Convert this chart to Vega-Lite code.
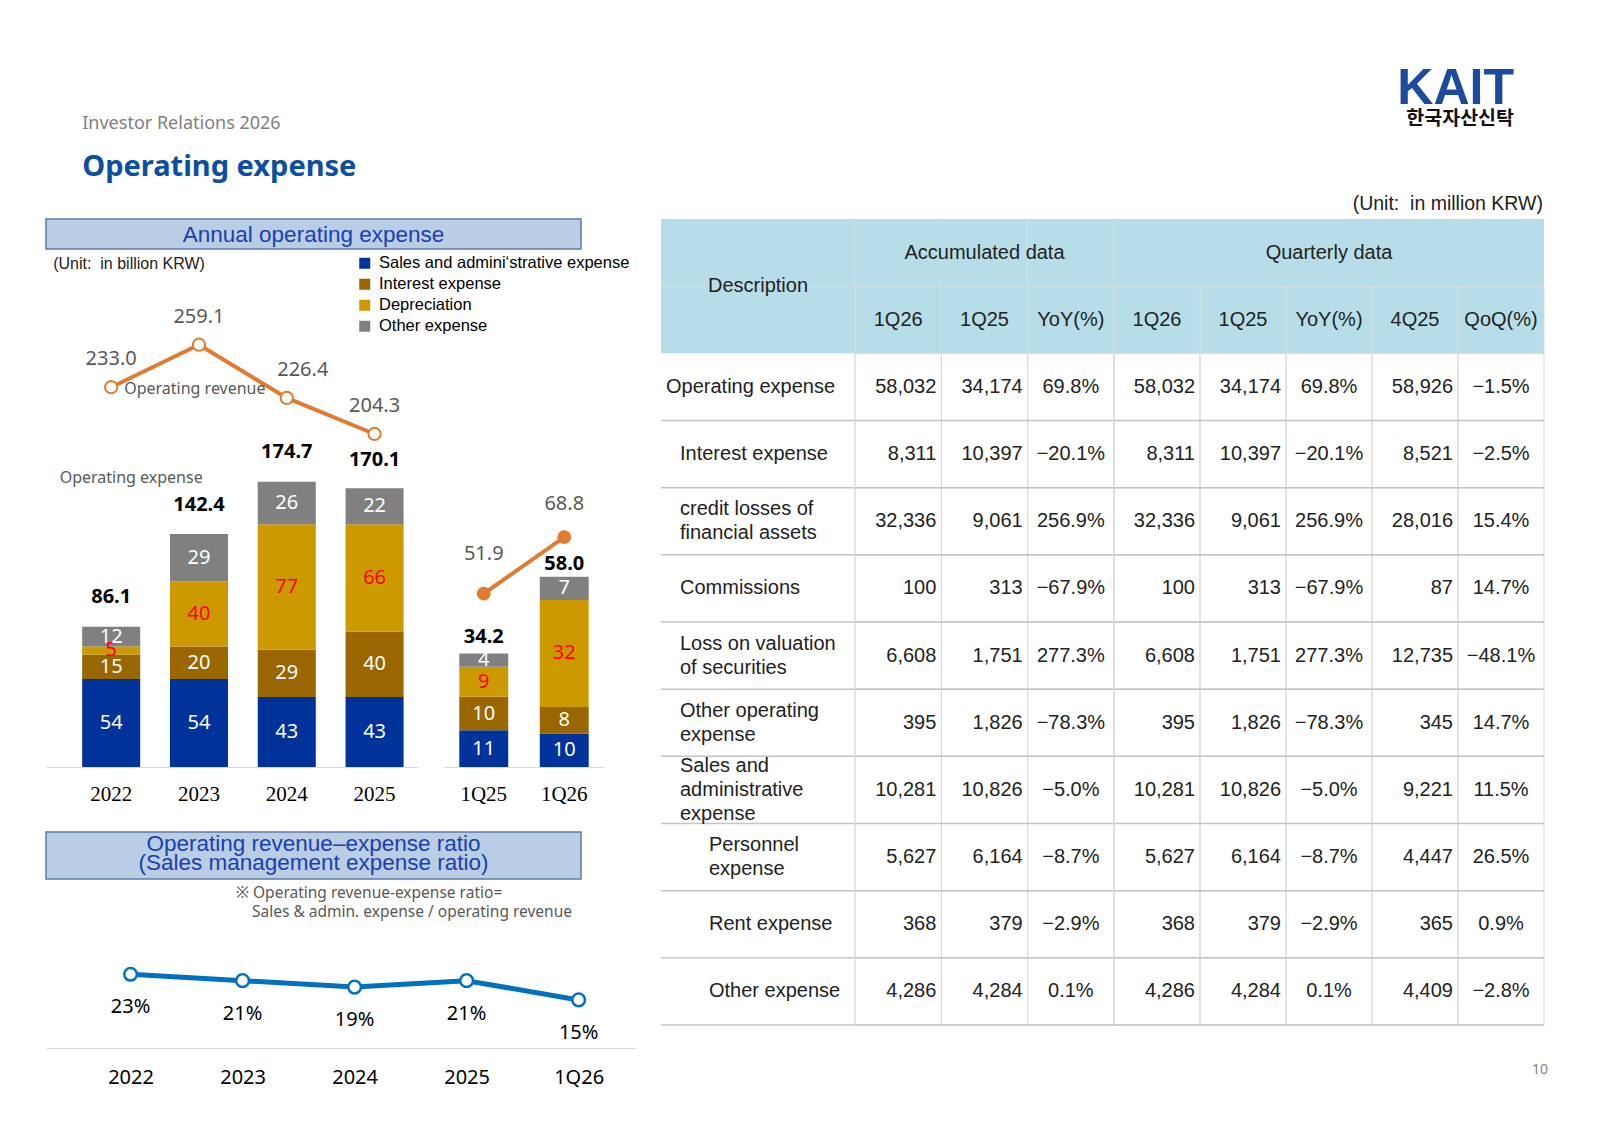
{
  "$schema": "https://vega.github.io/schema/vega-lite/v6.json",
  "background": "white",
  "padding": {"left": 45, "top": 63, "right": 5, "bottom": 5},
  "config": {
    "view": {"stroke": null},
    "text": {"font": "Noto Sans"},
    "title": {"font": "Noto Sans"}
  },
  "datasets": {
    "annExp": [
      {"p": "2022", "type": "Sales and admini‘strative expense", "k": 1, "v": 54},
      {"p": "2022", "type": "Interest expense", "k": 2, "v": 15},
      {"p": "2022", "type": "Depreciation", "k": 3, "v": 5},
      {"p": "2022", "type": "Other expense", "k": 4, "v": 12},
      {"p": "2023", "type": "Sales and admini‘strative expense", "k": 1, "v": 54},
      {"p": "2023", "type": "Interest expense", "k": 2, "v": 20},
      {"p": "2023", "type": "Depreciation", "k": 3, "v": 40},
      {"p": "2023", "type": "Other expense", "k": 4, "v": 29},
      {"p": "2024", "type": "Sales and admini‘strative expense", "k": 1, "v": 43},
      {"p": "2024", "type": "Interest expense", "k": 2, "v": 29},
      {"p": "2024", "type": "Depreciation", "k": 3, "v": 77},
      {"p": "2024", "type": "Other expense", "k": 4, "v": 26},
      {"p": "2025", "type": "Sales and admini‘strative expense", "k": 1, "v": 43},
      {"p": "2025", "type": "Interest expense", "k": 2, "v": 40},
      {"p": "2025", "type": "Depreciation", "k": 3, "v": 66},
      {"p": "2025", "type": "Other expense", "k": 4, "v": 22}
    ],
    "qExp": [
      {"p": "1Q25", "type": "Sales and admini‘strative expense", "k": 1, "v": 11},
      {"p": "1Q25", "type": "Interest expense", "k": 2, "v": 10},
      {"p": "1Q25", "type": "Depreciation", "k": 3, "v": 9},
      {"p": "1Q25", "type": "Other expense", "k": 4, "v": 4},
      {"p": "1Q26", "type": "Sales and admini‘strative expense", "k": 1, "v": 10},
      {"p": "1Q26", "type": "Interest expense", "k": 2, "v": 8},
      {"p": "1Q26", "type": "Depreciation", "k": 3, "v": 32},
      {"p": "1Q26", "type": "Other expense", "k": 4, "v": 7}
    ],
    "annTot": [
      {"p": "2022", "total": 86.1, "rev": 233.0},
      {"p": "2023", "total": 142.4, "rev": 259.1},
      {"p": "2024", "total": 174.7, "rev": 226.4},
      {"p": "2025", "total": 170.1, "rev": 204.3}
    ],
    "qTot": [
      {"p": "1Q25", "total": 34.2, "rev": 51.9},
      {"p": "1Q26", "total": 58.0, "rev": 68.8}
    ],
    "ratio": [
      {"p": "2022", "r": 0.23},
      {"p": "2023", "r": 0.21},
      {"p": "2024", "r": 0.19},
      {"p": "2025", "r": 0.21},
      {"p": "1Q26", "r": 0.15}
    ],
    "table": [
      {"r": "r1", "item": "Operating expense", "lvl": 0, "a1": "58,032", "a2": "34,174", "a3": "69.8%", "q1": "58,032", "q2": "34,174", "q3": "69.8%", "q4": "58,926", "q5": "−1.5%"},
      {"r": "r2", "item": "Interest expense", "lvl": 1, "a1": "8,311", "a2": "10,397", "a3": "−20.1%", "q1": "8,311", "q2": "10,397", "q3": "−20.1%", "q4": "8,521", "q5": "−2.5%"},
      {"r": "r3", "item": "credit losses of\nfinancial assets", "lvl": 1, "a1": "32,336", "a2": "9,061", "a3": "256.9%", "q1": "32,336", "q2": "9,061", "q3": "256.9%", "q4": "28,016", "q5": "15.4%"},
      {"r": "r4", "item": "Commissions", "lvl": 1, "a1": "100", "a2": "313", "a3": "−67.9%", "q1": "100", "q2": "313", "q3": "−67.9%", "q4": "87", "q5": "14.7%"},
      {"r": "r5", "item": "Loss on valuation\nof securities", "lvl": 1, "a1": "6,608", "a2": "1,751", "a3": "277.3%", "q1": "6,608", "q2": "1,751", "q3": "277.3%", "q4": "12,735", "q5": "−48.1%"},
      {"r": "r6", "item": "Other operating\nexpense", "lvl": 1, "a1": "395", "a2": "1,826", "a3": "−78.3%", "q1": "395", "q2": "1,826", "q3": "−78.3%", "q4": "345", "q5": "14.7%"},
      {"r": "r7", "item": "Sales and\nadministrative\nexpense", "lvl": 1, "a1": "10,281", "a2": "10,826", "a3": "−5.0%", "q1": "10,281", "q2": "10,826", "q3": "−5.0%", "q4": "9,221", "q5": "11.5%"},
      {"r": "r8", "item": "Personnel\nexpense", "lvl": 2, "a1": "5,627", "a2": "6,164", "a3": "−8.7%", "q1": "5,627", "q2": "6,164", "q3": "−8.7%", "q4": "4,447", "q5": "26.5%"},
      {"r": "r9", "item": "Rent expense", "lvl": 2, "a1": "368", "a2": "379", "a3": "−2.9%", "q1": "368", "q2": "379", "q3": "−2.9%", "q4": "365", "q5": "0.9%"},
      {"r": "r10", "item": "Other expense", "lvl": 2, "a1": "4,286", "a2": "4,284", "a3": "0.1%", "q1": "4,286", "q2": "4,284", "q3": "0.1%", "q4": "4,409", "q5": "−2.8%"}
    ],
    "hD": [
      {"c": "D", "r": "h1", "t": "Description"},
      {"c": "D", "r": "h2", "t": ""}
    ],
    "hA": [
      {"c": "a1", "r": "h1", "t": ""},
      {"c": "a2", "r": "h1", "t": "Accumulated data"},
      {"c": "a3", "r": "h1", "t": ""},
      {"c": "a1", "r": "h2", "t": "1Q26"},
      {"c": "a2", "r": "h2", "t": "1Q25"},
      {"c": "a3", "r": "h2", "t": "YoY(%)"}
    ],
    "hQ": [
      {"c": "q1", "r": "h1", "t": ""},
      {"c": "q2", "r": "h1", "t": ""},
      {"c": "q3", "r": "h1", "t": "Quarterly data"},
      {"c": "q4", "r": "h1", "t": ""},
      {"c": "q5", "r": "h1", "t": ""},
      {"c": "q1", "r": "h2", "t": "1Q26"},
      {"c": "q2", "r": "h2", "t": "1Q25"},
      {"c": "q3", "r": "h2", "t": "YoY(%)"},
      {"c": "q4", "r": "h2", "t": "4Q25"},
      {"c": "q5", "r": "h2", "t": "QoQ(%)"}
    ],
    "page": [
      {"c": "q5", "r": "r10", "t": "10"}
    ]
  },
  "spacing": 25,
  "hconcat": [
    {
      "title": {
        "text": "Investor Relations 2026",
        "subtitle": "Operating expense",
        "anchor": "start",
        "dx": 37,
        "font": "Noto Sans",
        "fontSize": 18,
        "fontWeight": "normal",
        "color": "#7f7f7f",
        "subtitleFont": "Noto Sans",
        "subtitleFontSize": 29,
        "subtitleFontWeight": "bold",
        "subtitleColor": "#0b4fa2",
        "subtitlePadding": 20,
        "offset": 36
      },
      "spacing": 5,
      "vconcat": [
        {
          "width": 535,
          "height": 30,
          "view": {"fill": "#b9cde5", "stroke": "#5f7aa8", "strokeWidth": 1.5},
          "data": {"values": [{"t": "Annual operating expense"}]},
          "mark": {"type": "text", "font": "Liberation Sans", "fontSize": 22.5, "color": "#1b3fae", "dy": 1},
          "encoding": {"text": {"field": "t", "type": "nominal"}}
        },
        {
          "bounds": "flush",
          "spacing": 26,
          "hconcat": [
            {
              "width": 372,
              "height": 511,
              "layer": [
                {
                  "data": {"name": "annExp"},
                  "mark": {"type": "bar"},
                  "encoding": {
                    "x": {"field": "p", "type": "nominal", "scale": {"domain": ["2022", "2023", "2024", "2025"], "paddingInner": 0.339, "paddingOuter": 0.288, "align": 0.715},
                      "axis": {"title": "\u00a0", "titleFontSize": 10, "titlePadding": 11.5, "labelFont": "Liberation Serif", "labelFontSize": 21, "labelColor": "#000000", "labelPadding": 16, "ticks": false, "tickSize": 0, "domainColor": "#d9d9d9", "labelAngle": 0}},
                    "y": {"field": "v", "type": "quantitative", "stack": "zero", "scale": {"domain": [0, 313.5], "nice": false}, "axis": null},
                    "order": {"field": "k", "type": "quantitative"},
                    "color": {"field": "type", "type": "nominal",
                      "sort": ["Sales and admini‘strative expense", "Interest expense", "Depreciation", "Other expense"],
                      "scale": {"domain": ["Sales and admini‘strative expense", "Interest expense", "Depreciation", "Other expense"], "range": ["#003399", "#996600", "#cc9900", "#808080"]},
                      "legend": {"title": null, "orient": "none", "legendX": 310.5, "legendY": 36, "symbolType": "square", "symbolSize": 121, "symbolStrokeWidth": 0, "labelFont": "Liberation Sans", "labelFontSize": 16.5, "labelColor": "#000000", "labelOffset": 6, "labelLimit": 600, "rowPadding": 4, "padding": 0}}
                  }
                },
                {
                  "data": {"name": "annExp"},
                  "mark": {"type": "text", "font": "Noto Sans", "fontSize": 20},
                  "encoding": {
                    "x": {"field": "p", "type": "nominal"},
                    "y": {"field": "v", "type": "quantitative", "stack": "zero", "bandPosition": 0.5},
                    "order": {"field": "k", "type": "quantitative"},
                    "color": {"field": "type", "type": "nominal", "sort": ["Sales and admini‘strative expense", "Interest expense", "Depreciation", "Other expense"]},
                    "fill": {"condition": {"test": "datum.type === 'Depreciation'", "value": "#ff0000"}, "value": "#ffffff"},
                    "text": {"field": "v", "type": "quantitative"}
                  }
                },
                {
                  "data": {"name": "annTot"},
                  "mark": {"type": "text", "font": "Noto Sans", "fontSize": 20, "fontWeight": "bold", "color": "#000000", "dy": -30},
                  "encoding": {
                    "x": {"field": "p", "type": "nominal"},
                    "y": {"field": "total", "type": "quantitative"},
                    "text": {"field": "total", "type": "quantitative", "format": ".1f"}
                  }
                },
                {
                  "data": {"name": "annTot"},
                  "mark": {"type": "line", "color": "#e07b30", "strokeWidth": 4},
                  "encoding": {
                    "x": {"field": "p", "type": "nominal"},
                    "y": {"field": "rev", "type": "quantitative"}
                  }
                },
                {
                  "data": {"name": "annTot"},
                  "mark": {"type": "point", "filled": true, "fill": "#ffffff", "stroke": "#e07b30", "strokeWidth": 2, "size": 150, "opacity": 1},
                  "encoding": {
                    "x": {"field": "p", "type": "nominal"},
                    "y": {"field": "rev", "type": "quantitative"}
                  }
                },
                {
                  "data": {"name": "annTot"},
                  "transform": [{"filter": "datum.p !== '2024'"}],
                  "mark": {"type": "text", "font": "Noto Sans", "fontSize": 20, "color": "#595959", "dy": -28},
                  "encoding": {
                    "x": {"field": "p", "type": "nominal"},
                    "y": {"field": "rev", "type": "quantitative"},
                    "text": {"field": "rev", "type": "quantitative", "format": ".1f"}
                  }
                },
                {
                  "data": {"name": "annTot"},
                  "transform": [{"filter": "datum.p === '2024'"}],
                  "mark": {"type": "text", "font": "Noto Sans", "fontSize": 20, "color": "#595959", "dy": -28, "dx": 16},
                  "encoding": {
                    "x": {"field": "p", "type": "nominal"},
                    "y": {"field": "rev", "type": "quantitative"},
                    "text": {"field": "rev", "type": "quantitative", "format": ".1f"}
                  }
                },
                {
                  "data": {"name": "annTot"},
                  "transform": [{"filter": "datum.p === '2022'"}],
                  "mark": {"type": "text", "font": "Noto Sans", "fontSize": 16, "color": "#595959", "align": "left", "dx": 13, "dy": 2},
                  "encoding": {
                    "x": {"field": "p", "type": "nominal"},
                    "y": {"field": "rev", "type": "quantitative"},
                    "text": {"value": "Operating revenue"}
                  }
                },
                {
                  "data": {"name": "annTot"},
                  "transform": [{"filter": "datum.p === '2022'"}],
                  "mark": {"type": "text", "font": "Noto Sans", "fontSize": 16, "color": "#595959", "dx": 20},
                  "encoding": {
                    "x": {"field": "p", "type": "nominal"},
                    "y": {"datum": 177},
                    "text": {"value": "Operating expense"}
                  }
                },
                {
                  "data": {"name": "annTot"},
                  "transform": [{"filter": "datum.p === '2022'"}],
                  "mark": {"type": "text", "font": "Liberation Sans", "fontSize": 16, "color": "#222222", "align": "left", "dx": -29},
                  "encoding": {
                    "x": {"field": "p", "type": "nominal", "bandPosition": 0},
                    "y": {"datum": 308.8},
                    "text": {"value": "(Unit:\u00a0\u00a0in billion KRW)"}
                  }
                }
              ]
            },
            {
              "width": 160,
              "height": 511,
              "layer": [
                {
                  "data": {"name": "qExp"},
                  "mark": {"type": "bar"},
                  "encoding": {
                    "x": {"field": "p", "type": "nominal", "scale": {"domain": ["1Q25", "1Q26"], "paddingInner": 0.392, "paddingOuter": 0.19},
                      "axis": {"title": null, "labelFont": "Liberation Serif", "labelFontSize": 21, "labelColor": "#000000", "labelPadding": 16, "ticks": false, "tickSize": 0, "domainColor": "#d9d9d9", "labelAngle": 0}},
                    "y": {"field": "v", "type": "quantitative", "stack": "zero", "scale": {"domain": [0, 153], "nice": false}, "axis": null},
                    "order": {"field": "k", "type": "quantitative"},
                    "color": {"field": "type", "type": "nominal", "sort": ["Sales and admini‘strative expense", "Interest expense", "Depreciation", "Other expense"]}
                  }
                },
                {
                  "data": {"name": "qExp"},
                  "mark": {"type": "text", "font": "Noto Sans", "fontSize": 20},
                  "encoding": {
                    "x": {"field": "p", "type": "nominal"},
                    "y": {"field": "v", "type": "quantitative", "stack": "zero", "bandPosition": 0.5},
                    "order": {"field": "k", "type": "quantitative"},
                    "color": {"field": "type", "type": "nominal", "sort": ["Sales and admini‘strative expense", "Interest expense", "Depreciation", "Other expense"]},
                    "fill": {"condition": {"test": "datum.type === 'Depreciation'", "value": "#ff0000"}, "value": "#ffffff"},
                    "text": {"field": "v", "type": "quantitative"}
                  }
                },
                {
                  "data": {"name": "qTot"},
                  "transform": [{"filter": "datum.p === '1Q25'"}],
                  "mark": {"type": "text", "font": "Noto Sans", "fontSize": 20, "fontWeight": "bold", "color": "#000000", "dy": -16},
                  "encoding": {
                    "x": {"field": "p", "type": "nominal"},
                    "y": {"field": "total", "type": "quantitative"},
                    "text": {"field": "total", "type": "quantitative", "format": ".1f"}
                  }
                },
                {
                  "data": {"name": "qTot"},
                  "transform": [{"filter": "datum.p === '1Q26'"}],
                  "mark": {"type": "text", "font": "Noto Sans", "fontSize": 20, "fontWeight": "bold", "color": "#000000", "dy": -9},
                  "encoding": {
                    "x": {"field": "p", "type": "nominal"},
                    "y": {"field": "total", "type": "quantitative"},
                    "text": {"field": "total", "type": "quantitative", "format": ".1f"}
                  }
                },
                {
                  "data": {"name": "qTot"},
                  "mark": {"type": "line", "color": "#e07b30", "strokeWidth": 4},
                  "encoding": {
                    "x": {"field": "p", "type": "nominal"},
                    "y": {"field": "rev", "type": "quantitative"}
                  }
                },
                {
                  "data": {"name": "qTot"},
                  "mark": {"type": "point", "filled": true, "fill": "#e07b30", "size": 190, "opacity": 1},
                  "encoding": {
                    "x": {"field": "p", "type": "nominal"},
                    "y": {"field": "rev", "type": "quantitative"}
                  }
                },
                {
                  "data": {"name": "qTot"},
                  "transform": [{"filter": "datum.p === '1Q25'"}],
                  "mark": {"type": "text", "font": "Noto Sans", "fontSize": 20, "color": "#595959", "dy": -40},
                  "encoding": {
                    "x": {"field": "p", "type": "nominal"},
                    "y": {"field": "rev", "type": "quantitative"},
                    "text": {"field": "rev", "type": "quantitative", "format": ".1f"}
                  }
                },
                {
                  "data": {"name": "qTot"},
                  "transform": [{"filter": "datum.p === '1Q26'"}],
                  "mark": {"type": "text", "font": "Noto Sans", "fontSize": 20, "color": "#595959", "dy": -33},
                  "encoding": {
                    "x": {"field": "p", "type": "nominal"},
                    "y": {"field": "rev", "type": "quantitative"},
                    "text": {"field": "rev", "type": "quantitative", "format": ".1f"}
                  }
                }
              ]
            }
          ]
        },
        {
          "width": 535,
          "height": 47,
          "view": {"fill": "#b9cde5", "stroke": "#5f7aa8", "strokeWidth": 1.5},
          "data": {"values": [{"t": "Operating revenue–expense ratio\n(Sales management expense ratio)"}]},
          "mark": {"type": "text", "font": "Liberation Sans", "fontSize": 22.5, "color": "#1b3fae", "dy": -11.5, "lineBreak": "\n", "lineHeight": 19},
          "encoding": {"text": {"field": "t", "type": "nominal"}}
        },
        {
          "width": 589,
          "height": 125,
          "title": {
            "text": ["※ Operating revenue-expense ratio=", "\u2800\u00a0Sales & admin. expense / operating revenue"],
            "anchor": "start",
            "dx": 190,
            "font": "Noto Sans",
            "fontSize": 15.5,
            "fontWeight": "normal",
            "color": "#595959",
            "lineHeight": 19,
            "offset": 3
          },
          "data": {"name": "ratio"},
          "encoding": {
            "x": {"field": "p", "type": "nominal", "scale": {"type": "point", "domain": ["2022", "2023", "2024", "2025", "1Q26"], "padding": 0.629, "align": 0.6},
              "axis": {"title": null, "labelFont": "Noto Sans", "labelFontSize": 20, "labelColor": "#000000", "labelPadding": 19, "ticks": false, "tickSize": 0, "domainColor": "#d9d9d9", "labelAngle": 0}},
            "y": {"field": "r", "type": "quantitative", "scale": {"domain": [0, 0.39], "nice": false}, "axis": null}
          },
          "layer": [
            {"mark": {"type": "line", "color": "#0070c0", "strokeWidth": 5}},
            {"mark": {"type": "point", "filled": true, "fill": "#ffffff", "stroke": "#0070c0", "strokeWidth": 2.5, "size": 160, "opacity": 1}},
            {"mark": {"type": "text", "font": "Noto Sans", "fontSize": 20, "color": "#000000", "dy": 33},
             "encoding": {"text": {"field": "r", "type": "quantitative", "format": ".0%"}}}
          ]
        }
      ]
    },
    {
      "title": {
        "text": "KAIT",
        "subtitle": "한국자산신탁",
        "anchor": "end",
        "dx": -34,
        "font": "Liberation Sans",
        "fontSize": 50,
        "fontWeight": 900,
        "color": "#1d4a9c",
        "subtitleFont": "Noto Sans CJK KR",
        "subtitleFontSize": 19.5,
        "subtitleFontWeight": "bold",
        "subtitleColor": "#111111",
        "subtitlePadding": -4,
        "offset": 66
      },
      "vconcat": [
        {
          "title": {"text": "(Unit:\u00a0\u00a0in million KRW)", "anchor": "end", "dx": -5, "font": "Liberation Sans", "fontSize": 19.5, "fontWeight": "normal", "color": "#222222", "offset": 4},
          "bounds": "flush",
          "spacing": 0,
          "hconcat": [
            {
              "width": 194,
              "height": 806,
              "layer": [
                {
                  "data": {"name": "hD"},
                  "mark": {"type": "rect", "fill": "#b7dee8"},
                  "encoding": {
                    "x": {"field": "c", "type": "nominal", "scale": {"domain": ["D"], "paddingInner": 0, "paddingOuter": 0}, "axis": null},
                    "y": {"field": "r", "type": "nominal", "scale": {"domain": ["h1", "h2", "r1", "r2", "r3", "r4", "r5", "r6", "r7", "r8", "r9", "r10"], "paddingInner": 0, "paddingOuter": 0}, "axis": null}
                  }
                },
                {
                  "data": {"name": "hD"},
                  "transform": [{"filter": "datum.r === 'h1'"}],
                  "mark": {"type": "text", "font": "Liberation Sans", "fontSize": 20, "color": "#222222"},
                  "encoding": {
                    "x": {"field": "c", "type": "nominal", "axis": null},
                    "y": {"field": "r", "type": "nominal", "bandPosition": 1, "axis": null},
                    "text": {"field": "t", "type": "nominal"}
                  }
                },
                {
                  "data": {"name": "table"},
                  "mark": {"type": "rule", "color": "#c4c4c4", "strokeWidth": 1.5},
                  "encoding": {"y": {"field": "r", "type": "nominal", "bandPosition": 1, "axis": null}}
                },
                {
                  "data": {"name": "table"},
                  "transform": [{"filter": "datum.lvl === 0"}],
                  "mark": {"type": "text", "font": "Liberation Sans", "fontSize": 20, "color": "#222222", "align": "left", "dx": -92},
                  "encoding": {"y": {"field": "r", "type": "nominal", "axis": null}, "text": {"field": "item", "type": "nominal"}}
                },
                {
                  "data": {"name": "table"},
                  "transform": [{"filter": "datum.r === 'r2' || datum.r === 'r4'"}],
                  "mark": {"type": "text", "font": "Liberation Sans", "fontSize": 20, "color": "#222222", "align": "left", "dx": -78},
                  "encoding": {"y": {"field": "r", "type": "nominal", "axis": null}, "text": {"field": "item", "type": "nominal"}}
                },
                {
                  "data": {"name": "table"},
                  "transform": [{"filter": "datum.r === 'r3' || datum.r === 'r5' || datum.r === 'r6'"}],
                  "mark": {"type": "text", "font": "Liberation Sans", "fontSize": 20, "color": "#222222", "align": "left", "dx": -78, "dy": -12, "lineBreak": "\n", "lineHeight": 24},
                  "encoding": {"y": {"field": "r", "type": "nominal", "axis": null}, "text": {"field": "item", "type": "nominal"}}
                },
                {
                  "data": {"name": "table"},
                  "transform": [{"filter": "datum.r === 'r7'"}],
                  "mark": {"type": "text", "font": "Liberation Sans", "fontSize": 20, "color": "#222222", "align": "left", "dx": -78, "dy": -24, "lineBreak": "\n", "lineHeight": 24},
                  "encoding": {"y": {"field": "r", "type": "nominal", "axis": null}, "text": {"field": "item", "type": "nominal"}}
                },
                {
                  "data": {"name": "table"},
                  "transform": [{"filter": "datum.r === 'r8'"}],
                  "mark": {"type": "text", "font": "Liberation Sans", "fontSize": 20, "color": "#222222", "align": "left", "dx": -49, "dy": -12, "lineBreak": "\n", "lineHeight": 24},
                  "encoding": {"y": {"field": "r", "type": "nominal", "axis": null}, "text": {"field": "item", "type": "nominal"}}
                },
                {
                  "data": {"name": "table"},
                  "transform": [{"filter": "datum.r === 'r9' || datum.r === 'r10'"}],
                  "mark": {"type": "text", "font": "Liberation Sans", "fontSize": 20, "color": "#222222", "align": "left", "dx": -49},
                  "encoding": {"y": {"field": "r", "type": "nominal", "axis": null}, "text": {"field": "item", "type": "nominal"}}
                }
              ]
            },
            {
              "width": 259,
              "height": 806,
              "layer": [
                {
                  "data": {"name": "hA"},
                  "mark": {"type": "rect", "fill": "#b7dee8"},
                  "encoding": {
                    "x": {"field": "c", "type": "nominal", "scale": {"domain": ["a1", "a2", "a3"], "paddingInner": 0, "paddingOuter": 0}, "axis": null},
                    "y": {"field": "r", "type": "nominal", "scale": {"domain": ["h1", "h2", "r1", "r2", "r3", "r4", "r5", "r6", "r7", "r8", "r9", "r10"], "paddingInner": 0, "paddingOuter": 0}, "axis": null}
                  }
                },
                {
                  "data": {"name": "hA"},
                  "transform": [{"filter": "datum.r === 'h2'"}],
                  "mark": {"type": "rect", "fillOpacity": 0, "stroke": "#d6dde0", "strokeWidth": 1},
                  "encoding": {"x": {"field": "c", "type": "nominal", "axis": null}, "y": {"field": "r", "type": "nominal", "axis": null}}
                },
                {
                  "data": {"name": "table"},
                  "transform": [{"fold": ["a1", "a2", "a3"], "as": ["c", "v"]}],
                  "mark": {"type": "rect", "fillOpacity": 0, "stroke": "#d9d9d9", "strokeWidth": 1},
                  "encoding": {"x": {"field": "c", "type": "nominal", "axis": null}, "y": {"field": "r", "type": "nominal", "axis": null}}
                },
                {
                  "data": {"name": "table"},
                  "mark": {"type": "rule", "color": "#c4c4c4", "strokeWidth": 1.5},
                  "encoding": {"y": {"field": "r", "type": "nominal", "bandPosition": 1, "axis": null}}
                },
                {
                  "data": {"name": "hA"},
                  "transform": [{"filter": "datum.r === 'h1' && datum.c === 'a1'"}],
                  "mark": {"type": "rule", "color": "#d6dde0", "strokeWidth": 1},
                  "encoding": {"x": {"field": "c", "type": "nominal", "bandPosition": 0, "axis": null}}
                },
                {
                  "data": {"name": "hA"},
                  "mark": {"type": "text", "font": "Liberation Sans", "fontSize": 20, "color": "#222222"},
                  "encoding": {"x": {"field": "c", "type": "nominal", "axis": null}, "y": {"field": "r", "type": "nominal", "axis": null}, "text": {"field": "t", "type": "nominal"}}
                },
                {
                  "data": {"name": "table"},
                  "transform": [{"fold": ["a1", "a2"], "as": ["c", "v"]}],
                  "mark": {"type": "text", "font": "Liberation Sans", "fontSize": 20, "color": "#222222", "align": "right", "dx": -5},
                  "encoding": {"x": {"field": "c", "type": "nominal", "bandPosition": 1, "axis": null}, "y": {"field": "r", "type": "nominal", "axis": null}, "text": {"field": "v", "type": "nominal"}}
                },
                {
                  "data": {"name": "table"},
                  "transform": [{"fold": ["a3"], "as": ["c", "v"]}],
                  "mark": {"type": "text", "font": "Liberation Sans", "fontSize": 20, "color": "#222222"},
                  "encoding": {"x": {"field": "c", "type": "nominal", "axis": null}, "y": {"field": "r", "type": "nominal", "axis": null}, "text": {"field": "v", "type": "nominal"}}
                }
              ]
            },
            {
              "width": 430,
              "height": 806,
              "layer": [
                {
                  "data": {"name": "hQ"},
                  "mark": {"type": "rect", "fill": "#b7dee8"},
                  "encoding": {
                    "x": {"field": "c", "type": "nominal", "scale": {"domain": ["q1", "q2", "q3", "q4", "q5"], "paddingInner": 0, "paddingOuter": 0}, "axis": null},
                    "y": {"field": "r", "type": "nominal", "scale": {"domain": ["h1", "h2", "r1", "r2", "r3", "r4", "r5", "r6", "r7", "r8", "r9", "r10"], "paddingInner": 0, "paddingOuter": 0}, "axis": null}
                  }
                },
                {
                  "data": {"name": "hQ"},
                  "transform": [{"filter": "datum.r === 'h2'"}],
                  "mark": {"type": "rect", "fillOpacity": 0, "stroke": "#d6dde0", "strokeWidth": 1},
                  "encoding": {"x": {"field": "c", "type": "nominal", "axis": null}, "y": {"field": "r", "type": "nominal", "axis": null}}
                },
                {
                  "data": {"name": "table"},
                  "transform": [{"fold": ["q1", "q2", "q3", "q4", "q5"], "as": ["c", "v"]}],
                  "mark": {"type": "rect", "fillOpacity": 0, "stroke": "#d9d9d9", "strokeWidth": 1},
                  "encoding": {"x": {"field": "c", "type": "nominal", "axis": null}, "y": {"field": "r", "type": "nominal", "axis": null}}
                },
                {
                  "data": {"name": "table"},
                  "mark": {"type": "rule", "color": "#c4c4c4", "strokeWidth": 1.5},
                  "encoding": {"y": {"field": "r", "type": "nominal", "bandPosition": 1, "axis": null}}
                },
                {
                  "data": {"name": "hQ"},
                  "transform": [{"filter": "datum.r === 'h1' && datum.c === 'q1'"}],
                  "mark": {"type": "rule", "color": "#d6dde0", "strokeWidth": 1},
                  "encoding": {"x": {"field": "c", "type": "nominal", "bandPosition": 0, "axis": null}}
                },
                {
                  "data": {"name": "hQ"},
                  "mark": {"type": "text", "font": "Liberation Sans", "fontSize": 20, "color": "#222222"},
                  "encoding": {"x": {"field": "c", "type": "nominal", "axis": null}, "y": {"field": "r", "type": "nominal", "axis": null}, "text": {"field": "t", "type": "nominal"}}
                },
                {
                  "data": {"name": "table"},
                  "transform": [{"fold": ["q1", "q2", "q4"], "as": ["c", "v"]}],
                  "mark": {"type": "text", "font": "Liberation Sans", "fontSize": 20, "color": "#222222", "align": "right", "dx": -5},
                  "encoding": {"x": {"field": "c", "type": "nominal", "bandPosition": 1, "axis": null}, "y": {"field": "r", "type": "nominal", "axis": null}, "text": {"field": "v", "type": "nominal"}}
                },
                {
                  "data": {"name": "table"},
                  "transform": [{"fold": ["q3", "q5"], "as": ["c", "v"]}],
                  "mark": {"type": "text", "font": "Liberation Sans", "fontSize": 20, "color": "#222222"},
                  "encoding": {"x": {"field": "c", "type": "nominal", "axis": null}, "y": {"field": "r", "type": "nominal", "axis": null}, "text": {"field": "v", "type": "nominal"}}
                },
                {
                  "data": {"name": "page"},
                  "mark": {"type": "text", "font": "Noto Sans", "fontSize": 14, "color": "#7f7f7f", "align": "right", "dx": 4, "dy": 45},
                  "encoding": {"x": {"field": "c", "type": "nominal", "bandPosition": 1, "axis": null}, "y": {"field": "r", "type": "nominal", "bandPosition": 1, "axis": null}, "text": {"field": "t", "type": "nominal"}}
                }
              ]
            }
          ]
        }
      ]
    }
  ]
}
